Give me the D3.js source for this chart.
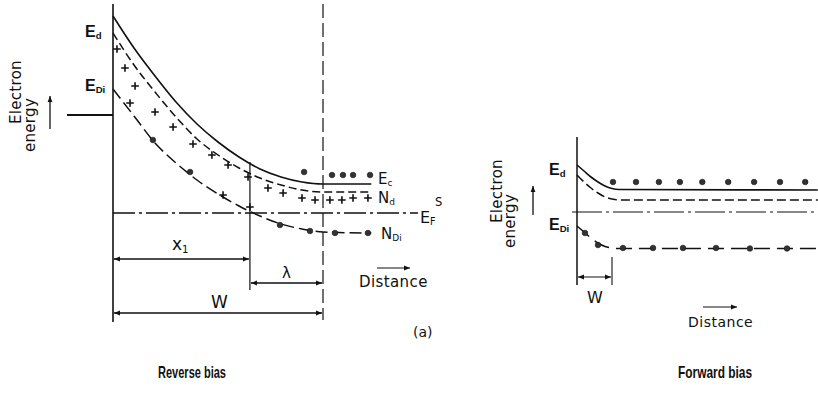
<!DOCTYPE html>
<html>
<head>
<meta charset="utf-8">
<script src="https://cdn.jsdelivr.net/npm/d3@7"></script>
<style>
body { margin: 0; background: #fff; }
text { font-family: "DejaVu Sans", sans-serif; fill: #111; }
.bold { font-family: "Liberation Sans", Arial, sans-serif; font-weight: bold; }
.cap { font-family: "Liberation Sans", Arial, sans-serif; font-weight: bold; }
</style>
</head>
<body>
<script>
"use strict";

// Reverse bias panel: distance in units where W = 10, energy with E_F = 0
const revDist = [0, 1, 2, 3, 4, 5, 6, 7, 8, 9, 10, 12.3];
const revEc   = [19.7, 16.5, 13.7, 11.1, 8.9, 7.1, 5.6, 4.4, 3.6, 3.1, 2.9, 2.9];
const revNd   = [18.0, 14.8, 12.1, 9.6, 7.4, 5.8, 4.5, 3.5, 2.8, 2.3, 2.1, 2.1];
const revEDi  = [12.4, 9.7, 7.0, 5.0, 3.3, 1.9, 0.7, -0.3, -1.1, -1.6, -1.9, -2.0];
const revEF = 0;
const revX1 = 6.52;
const revW = 10;
const revPlus = [[0.19, 16.4], [0.57, 14.5], [1.05, 12.7], [0.81, 11.0], [2.0, 10.1],
                 [2.86, 8.6], [3.81, 6.9], [4.71, 5.8], [5.48, 4.8], [6.43, 3.6],
                 [7.38, 2.5], [8.1, 2.0], [9.0, 1.5], [9.62, 1.3], [10.33, 1.3],
                 [10.9, 1.3], [11.43, 1.5], [12.14, 1.5], [6.52, 0.6], [5.24, 1.8]];
const revEcDots = [[9.1, 4.1], [10.43, 3.8], [10.95, 3.8], [11.43, 3.8], [12.24, 3.8]];
const revEDiDots = [[1.9, 7.3], [3.67, 4.1], [7.95, -1.2], [9.38, -1.8], [10.57, -2.0], [12.14, -2.0]];

// Forward bias panel: W = 5
const fwdDist = [0, 1, 2, 3, 4, 5, 6, 34.4];
const fwdEc   = [9.4, 8.2, 7.0, 6.0, 5.2, 4.7, 4.5, 4.4];
const fwdNd   = [7.4, 6.0, 4.8, 3.8, 3.0, 2.6, 2.4, 2.4];
const fwdEDi  = [-2.8, -4.0, -5.2, -6.2, -6.9, -7.2, -7.3, -7.3];
const fwdEF = 0;
const fwdW = 5;
const fwdEcDots = [5.14, 8.43, 11.7, 14.7, 17.9, 21.6, 25.3, 29, 32.6];
const fwdEcDotLevel = 6.0;
const fwdEDiDots = [[1.14, -4.2], [3, -6.6], [6.57, -7.2], [10.86, -7.2], [15.14, -7.2],
                    [19.86, -7.2], [24.7, -7.3], [30, -7.3]];

const captions = ["Reverse bias", "Forward bias"];

let w = 818, h = 415;

let svg = d3.select("body").append("svg")
    .attr("width", w)
    .attr("height", h);

// filled arrow head for dimension lines
svg.append("defs").append("marker")
    .attr("id", "arr")
    .attr("viewBox", "0 -5 10 10")
    .attr("refX", 10).attr("refY", 0)
    .attr("markerWidth", 8).attr("markerHeight", 6)
    .attr("markerUnits", "userSpaceOnUse")
    .attr("orient", "auto-start-reverse")
    .append("path")
    .attr("d", "M0,-4L10,0L0,4Z")
    .attr("fill", "#111");

let xL = d3.scaleLinear().domain([0, 10]).range([113, 323]);
let yL = d3.scaleLinear().domain([0, 20]).range([213, 13]);
let xR = d3.scaleLinear().domain([0, 5]).range([577, 612]);
let yR = d3.scaleLinear().domain([0, 10]).range([212, 162]);

function curve(g, xs, ys, dist, vals, dash, sw) {
    let line = d3.line()
        .x(d => xs(d[0]))
        .y(d => ys(d[1]))
        .curve(d3.curveMonotoneX);
    g.append("path")
        .datum(dist.map((d, i) => [d, vals[i]]))
        .attr("d", line)
        .attr("fill", "none")
        .attr("stroke", "#111")
        .attr("stroke-width", sw)
        .attr("stroke-dasharray", dash);
}

function seg(g, x1, y1, x2, y2, sw, dash) {
    return g.append("line")
        .attr("x1", x1).attr("y1", y1)
        .attr("x2", x2).attr("y2", y2)
        .attr("stroke", "#111")
        .attr("stroke-width", sw)
        .attr("stroke-dasharray", dash || null);
}

function dots(g, xs, ys, pts) {
    g.selectAll(null).data(pts).enter().append("circle")
        .attr("cx", d => xs(d[0]))
        .attr("cy", d => ys(d[1]))
        .attr("r", 2.8)
        .attr("fill", "#333")
        .attr("stroke", "#111")
        .attr("stroke-width", 0.6);
}

function label(g, x, y, main, sub, size, cls, sup) {
    let t = g.append("text").attr("x", x).attr("y", y)
        .attr("font-size", size);
    if (cls) t.attr("class", cls);
    t.append("tspan").text(main);
    if (sub) t.append("tspan").attr("font-size", size * 0.6).attr("dy", size * 0.15).text(sub);
    if (sup) {
        g.append("text").attr("x", sup[0]).attr("y", sup[1])
            .attr("font-size", size * 0.72).text(sup[2]);
    }
    return t;
}

function electronEnergy(g, a, b, arrowX, arrowY1, arrowY2) {
    g.append("text").attr("transform", `translate(${a[0]},${a[1]}) rotate(-90)`)
        .attr("font-size", 15).attr("letter-spacing", 0.3).text("Electron");
    g.append("text").attr("transform", `translate(${b[0]},${b[1]}) rotate(-90)`)
        .attr("font-size", 15).attr("letter-spacing", 0.3).text("energy");
    seg(g, arrowX, arrowY1, arrowX, arrowY2, 1.3).attr("marker-end", "url(#arr)");
}

// ---------------- Reverse bias ----------------
let gl = svg.append("g");

seg(gl, xL(0), 4, xL(0), 322, 1.6);
seg(gl, 67, 115, xL(0), 115, 2.2);
seg(gl, xL(revW), 4, xL(revW), 320, 1.2, "14,5");
seg(gl, xL(0), yL(revEF), 418, yL(revEF), 1.3, "22,4,3,4");
seg(gl, xL(revX1), yL(5.1), xL(revX1), 290, 1.2);

curve(gl, xL, yL, revDist, revEc, null, 1.6);
curve(gl, xL, yL, revDist, revNd, "8,4", 1.5);
curve(gl, xL, yL, revDist, revEDi, "12,5", 1.5);

gl.selectAll(null).data(revPlus).enter().append("path")
    .attr("transform", d => `translate(${xL(d[0])},${yL(d[1])})`)
    .attr("d", "M-3.8,0H3.8M0,-3.8V3.8")
    .attr("stroke", "#111")
    .attr("stroke-width", 1.6);
dots(gl, xL, yL, revEcDots);
dots(gl, xL, yL, revEDiDots);

// dimension arrows
seg(gl, xL(0) + 1, 259, xL(revX1) - 1, 259, 1.3)
    .attr("marker-start", "url(#arr)").attr("marker-end", "url(#arr)");
seg(gl, xL(revX1) + 1, 283, xL(revW) - 1, 283, 1.3)
    .attr("marker-start", "url(#arr)").attr("marker-end", "url(#arr)");
seg(gl, xL(0) + 1, 313, xL(revW) - 1, 313, 1.3)
    .attr("marker-start", "url(#arr)").attr("marker-end", "url(#arr)");

label(gl, 172, 250, "x", "1", 17);
label(gl, 282, 278, "λ", null, 15);
label(gl, 211, 308, "W", null, 17);

label(gl, 85, 37, "E", "d", 16, "bold");
label(gl, 85, 91, "E", "Di", 16, "bold");
label(gl, 378, 184, "E", "c", 15);
label(gl, 378, 203, "N", "d", 15);
label(gl, 420, 223, "E", "F", 16, null, [435, 206, "S"]);
label(gl, 381, 239, "N", "Di", 15);

electronEnergy(gl, [21, 124], [35, 152], 50, 129, 96);

seg(gl, 377, 268, 410, 268, 1.2).attr("marker-end", "url(#arr)");
gl.append("text").attr("x", 359).attr("y", 287).attr("font-size", 15)
    .attr("letter-spacing", 0.4).text("Distance");
gl.append("text").attr("x", 413).attr("y", 337).attr("font-size", 14).text("(a)");

// ---------------- Forward bias ----------------
let gr = svg.append("g");

seg(gr, xR(0), 137, xR(0), 285, 1.5);
seg(gr, 572, yR(fwdEF), 818, yR(fwdEF), 1.2, "30,4,3,4");
seg(gr, xR(fwdW), 257, xR(fwdW), 285, 1.1);

curve(gr, xR, yR, fwdDist, fwdEc, null, 1.6);
curve(gr, xR, yR, fwdDist, fwdNd, "9,4", 1.5);
curve(gr, xR, yR, fwdDist, fwdEDi, "16,7", 1.5);

dots(gr, xR, yR, fwdEcDots.map(d => [d, fwdEcDotLevel]));
dots(gr, xR, yR, fwdEDiDots);

seg(gr, xR(0) + 1, 277, xR(fwdW) - 1, 277, 1.2)
    .attr("marker-start", "url(#arr)").attr("marker-end", "url(#arr)");
label(gr, 587, 303, "W", null, 16);

label(gr, 549, 175, "E", "d", 16, "bold");
label(gr, 549, 230, "E", "Di", 16, "bold");

electronEnergy(gr, [502, 223], [515, 248], 533, 215, 186);

seg(gr, 703, 307, 737, 307, 1.2).attr("marker-end", "url(#arr)");
gr.append("text").attr("x", 688).attr("y", 327).attr("font-size", 14)
    .attr("letter-spacing", 0.5).text("Distance");

// ---------------- captions ----------------
svg.selectAll(".capt").data(captions).enter().append("text")
    .attr("class", "cap")
    .attr("x", (d, i) => [158, 678][i])
    .attr("y", 378)
    .attr("font-size", 16.5)
    .attr("textLength", (d, i) => [68, 74][i])
    .attr("lengthAdjust", "spacingAndGlyphs")
    .text(d => d);
</script>
</body>
</html>
